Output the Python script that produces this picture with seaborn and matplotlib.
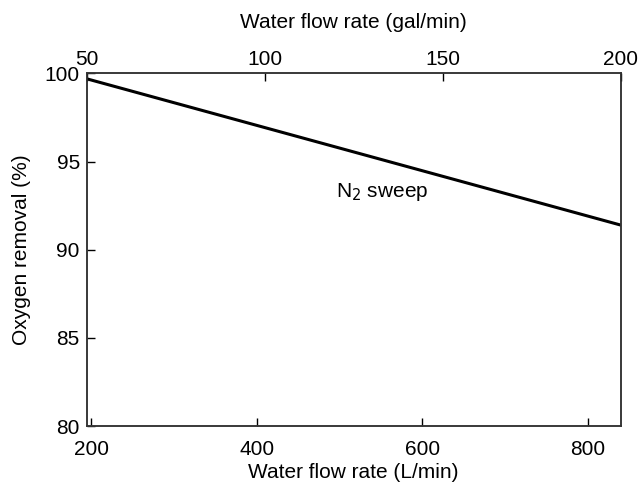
import pandas as pd
import matplotlib
matplotlib.use('Agg')
import matplotlib.pyplot as plt
import seaborn as sns

# Data
flow_lpm = [194.3, 839.5]
o2_removal = [99.7, 91.4]
bottom_ticks = [200, 400, 600, 800]
top_ticks = [50, 100, 150, 200]
y_ticks = [80, 85, 90, 95, 100]

df = pd.DataFrame({'flow': flow_lpm, 'removal': o2_removal})

sns.set_style('ticks')
plt.rcParams['font.family'] = ['Liberation Sans', 'DejaVu Sans']
plt.rcParams['font.size'] = 15
plt.rcParams['text.color'] = 'black'
plt.rcParams['axes.labelcolor'] = 'black'

W, H = 639, 487
left, right, top, bottom = 86.7, 620.7, 73.5, 426
fig = plt.figure(figsize=(W / 100, H / 100), dpi=100)
ax = fig.add_axes([left / W, 1 - bottom / H, (right - left) / W, (bottom - top) / H])

sns.lineplot(x='flow', y='removal', data=df, color='black', linewidth=2.2, ax=ax)
ax.set_xlim(194.3, 839.5)
ax.set_ylim(80, 100)
ax.set_xticks(bottom_ticks)
ax.set_yticks(y_ticks)
ax.tick_params(direction='in', length=6, width=1, labelsize=15, colors='black')
ax.tick_params(axis='x', pad=10)
ax.tick_params(axis='y', pad=5)
ax.set_xlabel('Water flow rate (L/min)', fontsize=15, labelpad=3)
ax.set_ylabel('Oxygen removal (%)', fontsize=15, labelpad=10)
for s in ax.spines.values():
    s.set_linewidth(1.1)
    s.set_color('#333333')

ax2 = ax.twiny()
ax2.set_xlim(50, 200)
ax2.set_xticks(top_ticks)
ax2.tick_params(direction='in', length=6, width=1, labelsize=15, pad=3, colors='black')
ax2.set_xlabel('Water flow rate (gal/min)', fontsize=15, labelpad=16)
for s in ax2.spines.values():
    s.set_linewidth(1.1)
    s.set_color('#333333')

ax.text(495, 93.0, 'N$_2$ sweep', fontsize=15, ha='left', va='baseline')

plt.savefig('out.png', dpi=100)
